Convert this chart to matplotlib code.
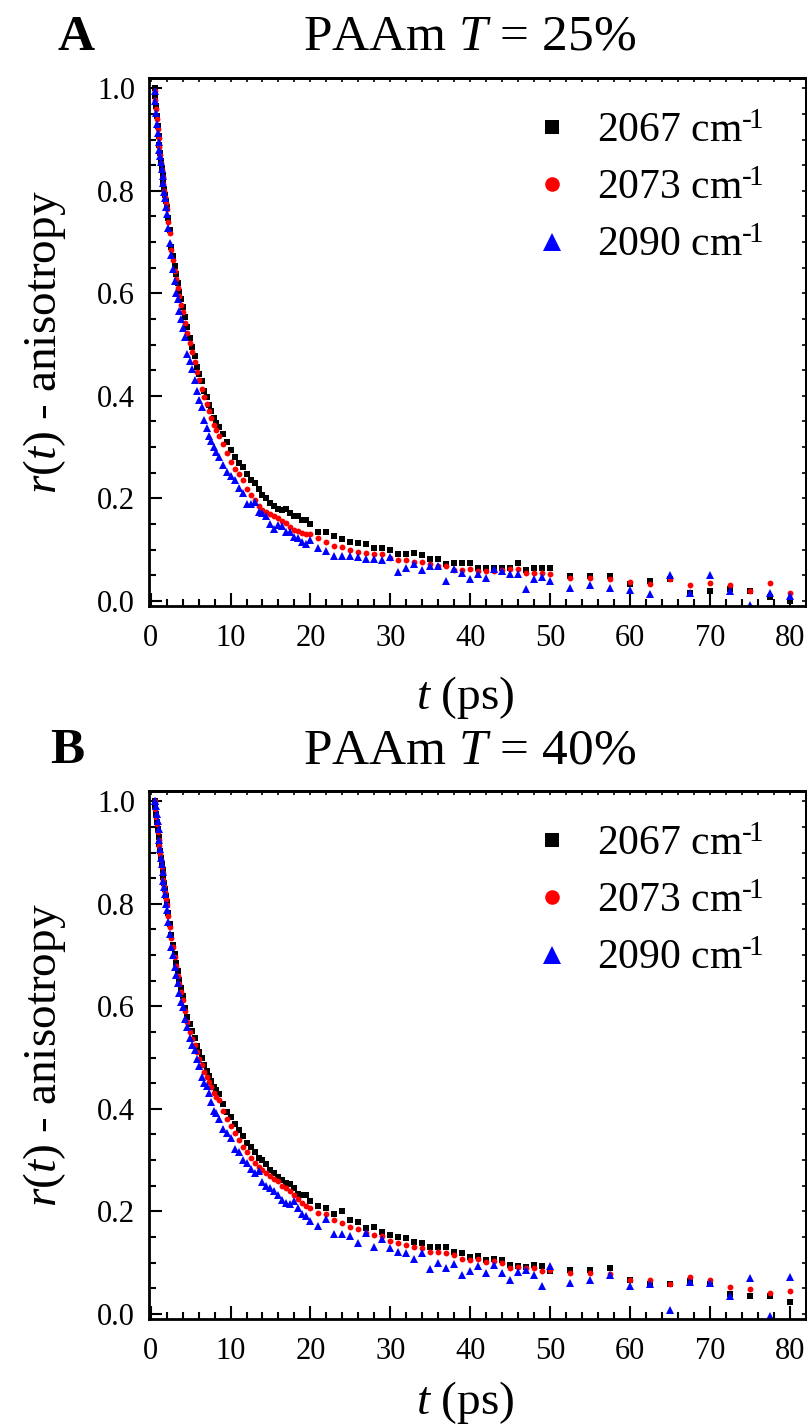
import matplotlib

matplotlib.use("Agg")
import matplotlib.pyplot as plt
from matplotlib.ticker import MultipleLocator

plt.rcParams["font.family"] = ["Liberation Serif", "DejaVu Serif"]
plt.rcParams["mathtext.fontset"] = "custom"
plt.rcParams["mathtext.rm"] = "Liberation Serif"
plt.rcParams["mathtext.it"] = "Liberation Serif:italic"
plt.rcParams["mathtext.bf"] = "Liberation Serif:bold"

# delay times (ps), shared by every trace
t_ps = [
    0.5, 0.6, 0.7, 0.8, 0.9, 1.0, 1.1, 1.2, 1.3, 1.4, 1.5, 1.6, 1.7, 1.8, 1.9, 2.0,
    2.2, 2.4, 2.6, 2.8, 3.0, 3.2, 3.4, 3.6, 3.8, 4.0,
    4.3, 4.6, 4.9, 5.2, 5.5, 5.8, 6.1, 6.4, 6.7, 7.0, 7.3, 7.6, 7.9, 8.2,
    8.5, 9.0, 9.5, 10.0, 10.5, 11.0, 11.5, 12.0, 12.5, 13.0, 13.5, 14.0,
    14.5, 15.0, 15.5, 16.0, 16.5, 17.0, 17.5, 18.0, 18.5, 19.0, 19.5, 20.0,
    21, 22, 23, 24, 25, 26, 27, 28, 29, 30, 31, 32, 33, 34, 35,
    36, 37, 38, 39, 40, 41, 42, 43, 44, 45, 46, 47, 48, 49, 50,
    52.5, 55, 57.5, 60, 62.5, 65, 67.5, 70, 72.5, 75, 77.5, 80,
]

# PAAm T = 25 %
r25_2067 = [
    1.000, 0.985, 0.966, 0.946, 0.926, 0.907, 0.890, 0.873, 0.858, 0.844, 0.830, 0.817, 0.804, 0.792, 0.780, 0.769,
    0.746, 0.724, 0.690, 0.672, 0.653, 0.637, 0.620, 0.603, 0.588, 0.574,
    0.553, 0.535, 0.513, 0.496, 0.477, 0.457, 0.443, 0.428, 0.410, 0.397, 0.382, 0.370, 0.357, 0.347,
    0.339, 0.326, 0.310, 0.294, 0.281, 0.268, 0.261, 0.248, 0.235, 0.229, 0.219, 0.206,
    0.200, 0.190, 0.185, 0.179, 0.178, 0.179, 0.171, 0.165, 0.165, 0.158, 0.158, 0.150,
    0.135, 0.135, 0.127, 0.121, 0.114, 0.113, 0.110, 0.103, 0.103, 0.100, 0.092, 0.092, 0.094, 0.090, 0.081,
    0.081, 0.071, 0.074, 0.074, 0.073, 0.065, 0.065, 0.065, 0.065, 0.065, 0.074, 0.061, 0.065, 0.065, 0.065,
    0.048, 0.048, 0.048, 0.032, 0.039, 0.042, 0.016, 0.019, 0.024, 0.019, 0.008, 0.000,
]
r25_2073 = [
    0.995, 0.978, 0.960, 0.940, 0.921, 0.902, 0.886, 0.869, 0.854, 0.840, 0.826, 0.813, 0.800, 0.788, 0.776, 0.765,
    0.740, 0.717, 0.684, 0.664, 0.643, 0.627, 0.610, 0.594, 0.578, 0.564,
    0.543, 0.523, 0.503, 0.485, 0.466, 0.447, 0.431, 0.414, 0.398, 0.384, 0.370, 0.357, 0.344, 0.333,
    0.322, 0.306, 0.289, 0.271, 0.258, 0.247, 0.235, 0.219, 0.207, 0.197, 0.186, 0.178,
    0.174, 0.170, 0.165, 0.161, 0.156, 0.152, 0.145, 0.139, 0.136, 0.132, 0.131, 0.130,
    0.123, 0.114, 0.108, 0.105, 0.100, 0.095, 0.094, 0.092, 0.092, 0.084, 0.079, 0.079, 0.076, 0.075, 0.072,
    0.068, 0.068, 0.060, 0.061, 0.063, 0.058, 0.058, 0.058, 0.060, 0.063, 0.063, 0.055, 0.054, 0.055, 0.052,
    0.044, 0.045, 0.042, 0.037, 0.032, 0.042, 0.030, 0.035, 0.030, 0.019, 0.034, 0.016,
]
r25_2090 = [
    0.995, 0.975, 0.952, 0.930, 0.912, 0.895, 0.880, 0.868, 0.856, 0.842, 0.828, 0.815, 0.797, 0.785, 0.768, 0.755,
    0.728, 0.698, 0.675, 0.648, 0.624, 0.600, 0.588, 0.565, 0.550, 0.533,
    0.515, 0.482, 0.468, 0.452, 0.430, 0.410, 0.392, 0.378, 0.352, 0.338, 0.322, 0.312, 0.300, 0.290,
    0.280, 0.266, 0.252, 0.244, 0.235, 0.221, 0.211, 0.189, 0.189, 0.192, 0.174, 0.171,
    0.165, 0.150, 0.140, 0.148, 0.146, 0.134, 0.135, 0.125, 0.123, 0.114, 0.111, 0.118,
    0.103, 0.097, 0.087, 0.087, 0.087, 0.086, 0.082, 0.082, 0.079, 0.086, 0.056, 0.065, 0.071, 0.060, 0.068,
    0.068, 0.039, 0.063, 0.055, 0.042, 0.053, 0.045, 0.063, 0.058, 0.052, 0.053, 0.023, 0.042, 0.046, 0.039,
    0.026, 0.031, 0.025, 0.021, 0.014, 0.050, 0.016, 0.050, 0.020, -0.008, 0.016, 0.010,
]

# PAAm T = 40 %
r40_2067 = [
    1.000, 0.990, 0.975, 0.960, 0.945, 0.930, 0.917, 0.902, 0.890, 0.877, 0.865, 0.852, 0.840, 0.828, 0.815, 0.803,
    0.782, 0.760, 0.740, 0.720, 0.702, 0.685, 0.668, 0.652, 0.636, 0.620,
    0.597, 0.580, 0.566, 0.552, 0.538, 0.522, 0.510, 0.500, 0.486, 0.474, 0.465, 0.455, 0.443, 0.436,
    0.429, 0.410, 0.393, 0.385, 0.370, 0.358, 0.347, 0.334, 0.325, 0.316, 0.304, 0.300,
    0.293, 0.281, 0.275, 0.267, 0.261, 0.256, 0.253, 0.245, 0.234, 0.231, 0.231, 0.221,
    0.210, 0.206, 0.195, 0.200, 0.184, 0.179, 0.168, 0.170, 0.160, 0.153, 0.150, 0.148, 0.141, 0.139, 0.131,
    0.130, 0.131, 0.121, 0.118, 0.110, 0.113, 0.106, 0.108, 0.105, 0.095, 0.094, 0.092, 0.095, 0.093, 0.083,
    0.085, 0.085, 0.089, 0.066, 0.059, 0.059, 0.065, 0.058, 0.039, 0.034, 0.034, 0.024,
]
r40_2073 = [
    1.000, 0.985, 0.970, 0.955, 0.940, 0.925, 0.912, 0.898, 0.885, 0.872, 0.860, 0.847, 0.835, 0.823, 0.810, 0.798,
    0.776, 0.755, 0.734, 0.715, 0.696, 0.678, 0.660, 0.643, 0.627, 0.612,
    0.590, 0.569, 0.550, 0.537, 0.524, 0.510, 0.497, 0.485, 0.472, 0.462, 0.453, 0.442, 0.430, 0.424,
    0.418, 0.396, 0.380, 0.366, 0.352, 0.339, 0.326, 0.315, 0.305, 0.294, 0.286, 0.280,
    0.274, 0.268, 0.263, 0.259, 0.250, 0.245, 0.239, 0.232, 0.224, 0.216, 0.210, 0.206,
    0.197, 0.194, 0.183, 0.178, 0.170, 0.165, 0.158, 0.154, 0.152, 0.142, 0.139, 0.134, 0.131, 0.129, 0.121,
    0.121, 0.118, 0.114, 0.108, 0.105, 0.107, 0.102, 0.103, 0.100, 0.089, 0.092, 0.089, 0.090, 0.084, 0.086,
    0.079, 0.079, 0.077, 0.066, 0.066, 0.058, 0.071, 0.066, 0.053, 0.049, 0.041, 0.045,
]
r40_2090 = [
    1.000, 1.000, 0.990, 0.976, 0.962, 0.946, 0.925, 0.906, 0.890, 0.877, 0.862, 0.845, 0.832, 0.819, 0.800, 0.787,
    0.765, 0.742, 0.716, 0.700, 0.677, 0.662, 0.645, 0.625, 0.608, 0.598,
    0.575, 0.560, 0.538, 0.524, 0.515, 0.497, 0.484, 0.462, 0.451, 0.444, 0.430, 0.413, 0.396, 0.392,
    0.380, 0.361, 0.352, 0.344, 0.322, 0.316, 0.300, 0.294, 0.283, 0.274, 0.279, 0.258,
    0.250, 0.245, 0.240, 0.232, 0.222, 0.216, 0.214, 0.221, 0.206, 0.194, 0.190, 0.181,
    0.172, 0.185, 0.155, 0.156, 0.152, 0.139, 0.157, 0.131, 0.146, 0.129, 0.121, 0.119, 0.108, 0.119, 0.087,
    0.100, 0.090, 0.097, 0.075, 0.084, 0.094, 0.079, 0.095, 0.079, 0.066, 0.082, 0.086, 0.076, 0.054, 0.093,
    0.060, 0.066, 0.076, 0.054, 0.058, 0.008, 0.063, 0.061, 0.035, 0.070, -0.005, 0.072,
]

wavenumbers = ["2067", "2073", "2090"]
colors = ["black", "#ff0000", "#0000ff"]
markers = ["s", "o", "^"]
marker_sizes = [3.8, 4.2, 5.2]

W, H = 807, 1428


def px(x, y):
    return x / W, 1 - y / H


def draw_panel(fig, top_px, traces, title, letter, letter_x, xlabel_y):
    left, right, height = 149, 806, 528
    ax = fig.add_axes([left / W, 1 - (top_px + height) / H, (right - left) / W, height / H])

    for r, wn, c, m, ms in zip(traces, wavenumbers, colors, markers, marker_sizes):
        ax.plot(t_ps, r, linestyle="none", marker=m, ms=ms, color=c,
                markeredgewidth=0, label=wn + " cm$^{\u2010\\!1}$")

    ax.set_xlim(-0.2, 82)
    ax.set_ylim(-0.01, 1.02)
    ax.xaxis.set_major_locator(MultipleLocator(10))
    ax.xaxis.set_minor_locator(MultipleLocator(2))
    ax.yaxis.set_major_locator(MultipleLocator(0.2))
    ax.yaxis.set_minor_locator(MultipleLocator(0.05))
    ax.yaxis.set_major_formatter(lambda v, pos: f"{v:.1f}")
    for s in ax.spines.values():
        s.set_linewidth(2)
    ax.tick_params(which="both", direction="in", width=1.5, labelsize=22)
    ax.tick_params(which="major", length=9.5)
    ax.tick_params(which="minor", length=5)
    ax.tick_params(axis="x", pad=13)
    ax.tick_params(axis="y", pad=10)

    # short ticks on the opposite spines
    top = ax.secondary_xaxis("top")
    top.xaxis.set_major_locator(MultipleLocator(2))
    top.tick_params(direction="in", length=3, width=1.2, labeltop=False)
    top.spines["top"].set_linewidth(2)
    rgt = ax.secondary_yaxis("right")
    rgt.yaxis.set_major_locator(MultipleLocator(0.05))
    rgt.tick_params(direction="in", length=3, width=1.2, labelright=False)
    rgt.spines["right"].set_linewidth(2)

    ax.legend(loc="upper right", bbox_to_anchor=(0.935, 0.935), frameon=False,
              fontsize=30, markerscale=2.5, handlelength=1.0, handletextpad=0.6,
              labelspacing=0.45, borderpad=0, borderaxespad=0)

    fig.text(*px(470, top_px - 28), title, fontsize=37, ha="center", va="baseline")
    fig.text(*px(letter_x, top_px - 28), letter, fontsize=37, fontweight="bold",
             ha="left", va="baseline")
    fig.text(*px(45, top_px + height / 2), "$r$($t$) - anisotropy", fontsize=34,
             rotation=90, ha="center", va="center")
    fig.text(*px(465, xlabel_y), "$t$ (ps)", fontsize=34, ha="center", va="center")
    return ax


def main():
    fig = plt.figure(figsize=(W / 100, H / 100), dpi=100)
    draw_panel(fig, 78, [r25_2067, r25_2073, r25_2090], "PAAm $T$ = 25%", "A", 57, 697)
    draw_panel(fig, 791, [r40_2067, r40_2073, r40_2090], "PAAm $T$ = 40%", "B", 50, 1402)
    fig.savefig("out.png", dpi=100)


if __name__ == "__main__":
    main()
